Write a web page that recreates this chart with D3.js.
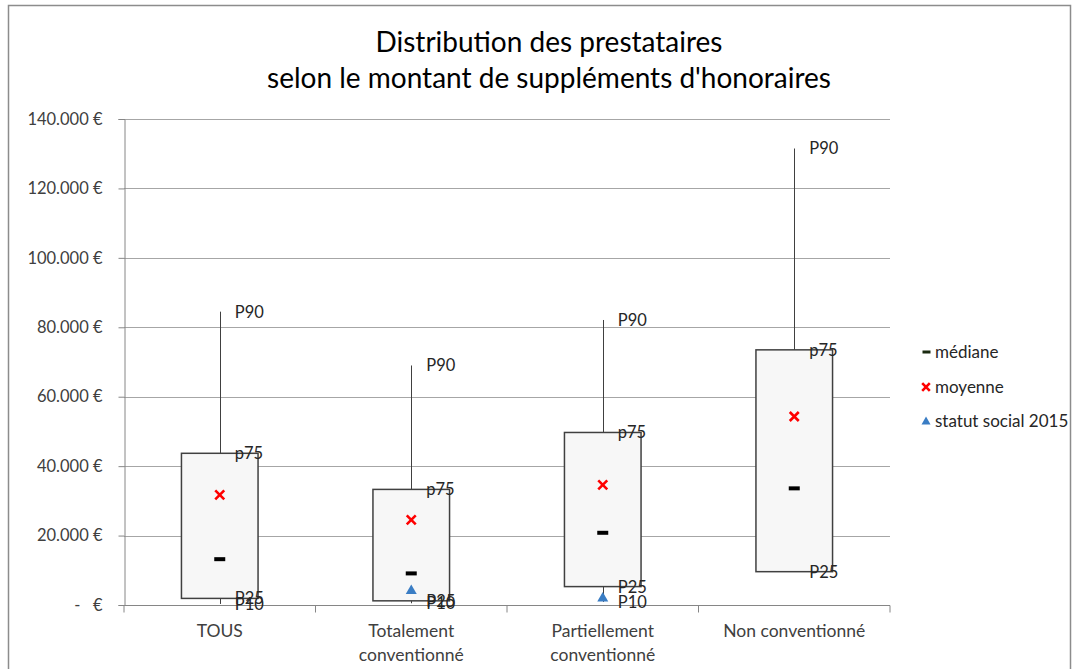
<!DOCTYPE html>
<html>
<head>
<meta charset="utf-8">
<script src="https://cdn.jsdelivr.net/npm/d3@7"></script>
<style>
  body { margin: 0; background: #fff; }
  svg { font-family: Lato, sans-serif; }
  .tick text { fill: #404040; }
</style>
</head>
<body>
<div id="chart"></div>
<script>
// values (in €)
const categories = ['TOUS', 'Totalement\nconventionné', 'Partiellement\nconventionné', 'Non conventionné'];
const p10 = [300, 500, 900, null];
const p25 = [1900, 1200, 5300, 9600];
const median = [13200, 9100, 20800, 33600];
const mean = [31700, 24500, 34600, 54300];
const p75 = [43700, 33300, 49700, 73500];
const p90 = [84500, 69000, 82100, 131500];
const statut = [null, 4500, 2300, null];
const yTicks = [0, 20000, 40000, 60000, 80000, 100000, 120000, 140000];

const legendItems = ['médiane', 'moyenne', 'statut social 2015'];

const W = 1075, H = 669;
const margin = {left: 124, right: 185, top: 119, bottom: 64};

const svg = d3.select('#chart').append('svg')
    .attr('width', W)
    .attr('height', H);

// outer frame
svg.append('rect')
    .attr('x', 8.5).attr('y', 5.5)
    .attr('width', 1062).attr('height', 700)
    .attr('fill', 'none')
    .attr('stroke', '#8c8c8c')
    .attr('stroke-width', 1.5);

const x = d3.scaleBand()
    .domain(categories)
    .range([margin.left, W - margin.right]);

const y = d3.scaleLinear()
    .domain([0, 140000])
    .range([H - margin.bottom, margin.top]);

const fmt = function(v) {
    if (v === 0) return '-\u00a0\u00a0\u00a0€';
    return d3.format(',')(v).replace(/,/g, '.') + ' €';
};

// grid
svg.append('g')
    .selectAll('line')
    .data(yTicks.filter(function(d) { return d > 0; }))
    .join('line')
    .attr('x1', margin.left).attr('x2', W - margin.right)
    .attr('y1', function(d) { return Math.round(y(d)) + 0.5; })
    .attr('y2', function(d) { return Math.round(y(d)) + 0.5; })
    .attr('stroke', '#a6a6a6');

// y axis
const yAxis = svg.append('g')
    .attr('transform', 'translate(' + (margin.left + 0.5) + ',0)')
    .call(d3.axisLeft(y).tickValues(yTicks).tickFormat(fmt).tickSizeOuter(0).tickSize(6).tickPadding(16));
yAxis.selectAll('path, line').attr('stroke', '#868686');
yAxis.selectAll('text').attr('font-size', 16.5).attr('font-family', 'Lato, sans-serif');

// x axis
const xAxisG = svg.append('g')
    .attr('transform', 'translate(0,' + (Math.round(y(0)) + 0.5) + ')');
xAxisG.append('line')
    .attr('x1', margin.left).attr('x2', W - margin.right)
    .attr('stroke', '#868686');
xAxisG.selectAll('line.tk')
    .data(categories.concat(['_end']))
    .join('line')
    .classed('tk', true)
    .attr('x1', function(d, i) { return i < categories.length ? x(d) : x.range()[1]; })
    .attr('x2', function(d, i) { return i < categories.length ? x(d) : x.range()[1]; })
    .attr('y1', 0).attr('y2', 7)
    .attr('stroke', '#868686');

const catText = svg.append('g').selectAll('text')
    .data(categories)
    .join('text')
    .attr('x', function(d) { return x(d) + x.bandwidth() / 2; })
    .attr('y', 637)
    .attr('text-anchor', 'middle')
    .attr('font-size', 17.5)
    .attr('fill', '#404040');
catText.selectAll('tspan')
    .data(function(d) { return d.split('\n'); })
    .join('tspan')
    .attr('x', function() { return d3.select(this.parentNode).attr('x'); })
    .attr('dy', function(d, i) { return i === 0 ? 0 : 24; })
    .text(function(d) { return d; });

// boxes
const boxW = x.bandwidth() * 0.4;
const g = svg.append('g');
const cx = function(i) { return x(categories[i]) + x.bandwidth() / 2; };

const idx = d3.range(categories.length);

g.selectAll('line.whisker')
    .data(idx)
    .join('line')
    .classed('whisker', true)
    .attr('x1', function(i) { return Math.round(cx(i)) + 0.5; })
    .attr('x2', function(i) { return Math.round(cx(i)) + 0.5; })
    .attr('y1', function(i) { return y(p90[i]); })
    .attr('y2', function(i) { return y(p10[i] != null ? p10[i] : p25[i]); })
    .attr('stroke', '#404040')
    .attr('stroke-width', 1);

g.selectAll('rect.box')
    .data(idx)
    .join('rect')
    .classed('box', true)
    .attr('x', function(i) { return cx(i) - boxW / 2; })
    .attr('y', function(i) { return y(p75[i]); })
    .attr('width', boxW)
    .attr('height', function(i) { return y(p25[i]) - y(p75[i]); })
    .attr('fill', '#f7f7f7')
    .attr('stroke', '#404040')
    .attr('stroke-width', 1.5);

// median dash
g.selectAll('rect.med')
    .data(idx)
    .join('rect')
    .classed('med', true)
    .attr('x', function(i) { return cx(i) - 5.5; })
    .attr('y', function(i) { return y(median[i]) - 2; })
    .attr('width', 11).attr('height', 4)
    .attr('fill', '#000');

// mean cross
const cross = function(sel, s) {
    sel.attr('d', 'M' + (-s) + ',' + (-s) + 'L' + s + ',' + s + 'M' + (-s) + ',' + s + 'L' + s + ',' + (-s))
        .attr('stroke', '#ff0000')
        .attr('stroke-width', 2.6)
        .attr('fill', 'none');
};
g.selectAll('path.mean')
    .data(idx)
    .join('path')
    .classed('mean', true)
    .attr('transform', function(i) { return 'translate(' + cx(i) + ',' + y(mean[i]) + ')'; })
    .call(cross, 4.5);

// statut social triangles
const tri = 'M0,-5L5.5,4.5L-5.5,4.5Z';
g.selectAll('path.statut')
    .data(idx.filter(function(i) { return statut[i] != null; }))
    .join('path')
    .classed('statut', true)
    .attr('transform', function(i) { return 'translate(' + cx(i) + ',' + y(statut[i]) + ')'; })
    .attr('d', tri)
    .attr('fill', '#3a7dc4');

// percentile labels (P25 / P10 overlap like in the original)
const labels = [];
idx.forEach(function(i) {
    labels.push({i: i, v: p90[i], t: 'P90'});
    labels.push({i: i, v: p75[i], t: 'p75'});
    labels.push({i: i, v: p25[i], t: 'P25'});
    if (p10[i] != null) labels.push({i: i, v: p10[i], t: 'P10'});
});
g.selectAll('text.pl')
    .data(labels)
    .join('text')
    .classed('pl', true)
    .attr('x', function(d) { return cx(d.i) + 15; })
    .attr('y', function(d) { return y(d.v); })
    .attr('dy', '0.36em')
    .attr('font-size', 16.5)
    .attr('fill', '#262626')
    .text(function(d) { return d.t; });

// legend
const lg = svg.append('g').attr('transform', 'translate(926,0)');
const legY = [352, 387, 421];
const li = lg.selectAll('g')
    .data(legendItems)
    .join('g')
    .attr('transform', function(d, i) { return 'translate(0,' + legY[i] + ')'; });
li.append('text')
    .attr('x', 9)
    .attr('dy', '0.36em')
    .attr('font-size', 17)
    .attr('fill', '#262626')
    .text(function(d) { return d; });
li.filter(function(d, i) { return i === 0; }).append('rect')
    .attr('x', -3.5).attr('y', -1.5).attr('width', 8).attr('height', 3).attr('fill', '#1a2a10');
li.filter(function(d, i) { return i === 1; }).append('path').call(cross, 3.8);
li.filter(function(d, i) { return i === 2; }).append('path')
    .attr('d', 'M0,-4.5L4.5,3.5L-4.5,3.5Z')
    .attr('fill', '#3a7dc4');

// title
svg.append('text')
    .attr('x', 549).attr('y', 52)
    .attr('text-anchor', 'middle')
    .attr('font-size', 28)
    .attr('fill', '#000')
    .text('Distribution des prestataires');
svg.append('text')
    .attr('x', 549).attr('y', 88)
    .attr('text-anchor', 'middle')
    .attr('font-size', 28)
    .attr('fill', '#000')
    .text("selon le montant de suppléments d'honoraires");
</script>
</body>
</html>
